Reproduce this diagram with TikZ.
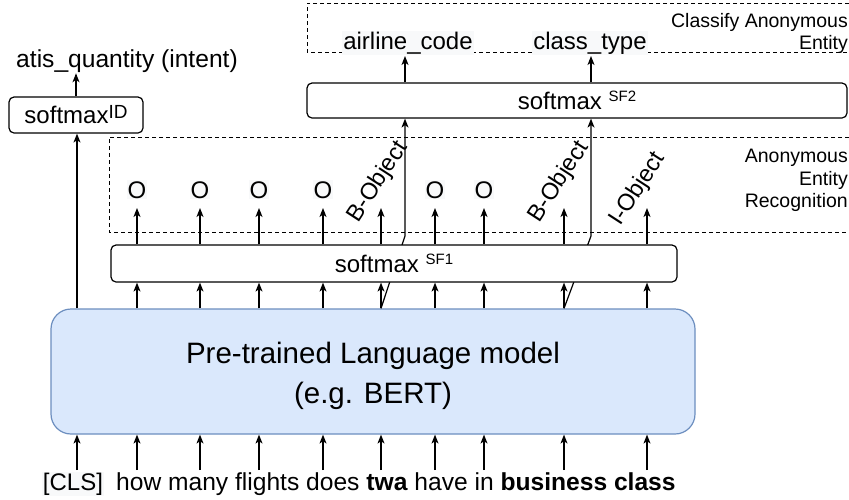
\documentclass[tikz,border=0pt]{standalone}
\usepackage{fontspec}
\setmainfont{Liberation Sans}
\usetikzlibrary{arrows.meta}
\definecolor{plmfill}{HTML}{DAE8FC}
\definecolor{plmline}{HTML}{6C8EBF}
\definecolor{tagbg}{HTML}{F8F9FA}
\newcommand\fsz[2]{\fontsize{#1}{#2}\selectfont}
\begin{document}
\begin{tikzpicture}[x=1pt,y=-1pt,
  link/.style={line width=1.2pt,-{Stealth[length=9pt,width=7pt,inset=2.5pt]}},
  zone/.style={line width=1pt,dash pattern=on 4pt off 3pt},
  smbox/.style={draw,line width=1.2pt,rounded corners=5pt,fill=white,inner sep=0pt,font=\fsz{24}{28}},
  tag/.style={fill=tagbg,inner sep=1pt,font=\fsz{24}{28}},
  rtag/.style={inner sep=0pt,rotate=57,font=\fsz{23.5}{28}},
  note/.style={align=right,inner sep=0pt,font=\fsz{19.5}{22}},
]
\useasboundingbox (0,0) rectangle (849,499);

% dashed zones of the two tagging stages
\draw[zone] (849,3) -- (307,3) -- (307,52) -- (849,52);
\draw[zone] (849,137) -- (109,137) -- (109,232) -- (849,232);
\node[note,anchor=east] (cae) at (848,33.5) {Classify Anonymous\\Entity};
\node[note,anchor=east,font=\fsz{19.5}{22.5}] (aer) at (848,180.5) {Anonymous\\Entity\\Recognition};

% encoder
\node[draw=plmline,fill=plmfill,line width=1.2pt,rounded corners=20pt,
      minimum width=644pt,minimum height=125pt] (plm) at (373,371.5) {};
\node[font=\fsz{29.5}{40},align=center,inner sep=0pt] (plmtxt) at (373,376)
  {Pre-trained Language model\\(e.g. BERT)};

% output heads
\node[smbox,minimum width=540pt,minimum height=35pt] (sf2) at (577,100.5)
  {softmax \raisebox{8pt}{\fsz{15}{15}SF2}};
\node[smbox,minimum width=134pt,minimum height=36pt] (sfid) at (76,115)
  {softmax\raisebox{5pt}{\fsz{19}{19}ID}};

% token positions
\foreach \n/\x in {cls/77,how/137,many/200,flights/259,does/323,twa/381,have/435,in/484,business/564,class/647}
  \coordinate (t-\n) at (\x,470);
\coordinate (tagrow) at (0,208);
\coordinate (toprow) at (0,56);
\coordinate (k1) at (405,236);
\coordinate (k2) at (591,236);

% entity tokens routed past the slot head
\draw[link] (t-twa |- plm.north) -- (k1) -- (k1 |- sf2.south);
\draw[link] (t-business |- plm.north) -- (k2) -- (k2 |- sf2.south);

\node[smbox,minimum width=566pt,minimum height=37pt] (sf1) at (394,263.5)
  {softmax \raisebox{8pt}{\fsz{15}{15}SF1}};

% input sentence
\node[tag,anchor=base] (clstxt) at (73,490) {[CLS]};
\node[font=\fsz{24.6}{28},inner sep=0pt,anchor=base west] (sent) at (116,490)
  {how many flights does \textbf{twa} have in \textbf{business class}};

% slot tags
\foreach \n in {how,many,flights,does,have,in}
  \node[tag,anchor=base] (l-\n) at (t-\n |- 0,198) {O};
\node[rtag] (l-twa) at (378,182) {B-Object};
\node[rtag] (l-business) at (559,182) {B-Object};
\node[rtag] (l-class) at (638,189) {I-Object};

% entity classes and intent
\node[tag,anchor=base] (airline) at (408,49) {airline\_code};
\node[tag,anchor=base] (classtype) at (590,49) {class\_type};
\node[font=\fsz{24.6}{28},inner sep=1pt,anchor=base] (intent) at (127,67) {atis\_quantity (intent)};

% connectors
\foreach \n in {cls,how,many,flights,does,twa,have,in,business,class}
  \draw[link] (t-\n) -- (t-\n |- plm.south);
\foreach \n in {how,many,flights,does,twa,have,in,business,class}{
  \draw[link] (t-\n |- plm.north) -- (t-\n |- sf1.south);
  \draw[link] (t-\n |- sf1.north) -- (t-\n |- tagrow);
}
\draw[link] (t-cls |- plm.north) -- (t-cls |- sfid.south);
\draw[link] (sfid.north) -- (sfid.north |- intent.south);
\draw[link] (k1 |- sf2.north) -- (k1 |- toprow);
\draw[link] (k2 |- sf2.north) -- (k2 |- toprow);
\end{tikzpicture}
\end{document}
